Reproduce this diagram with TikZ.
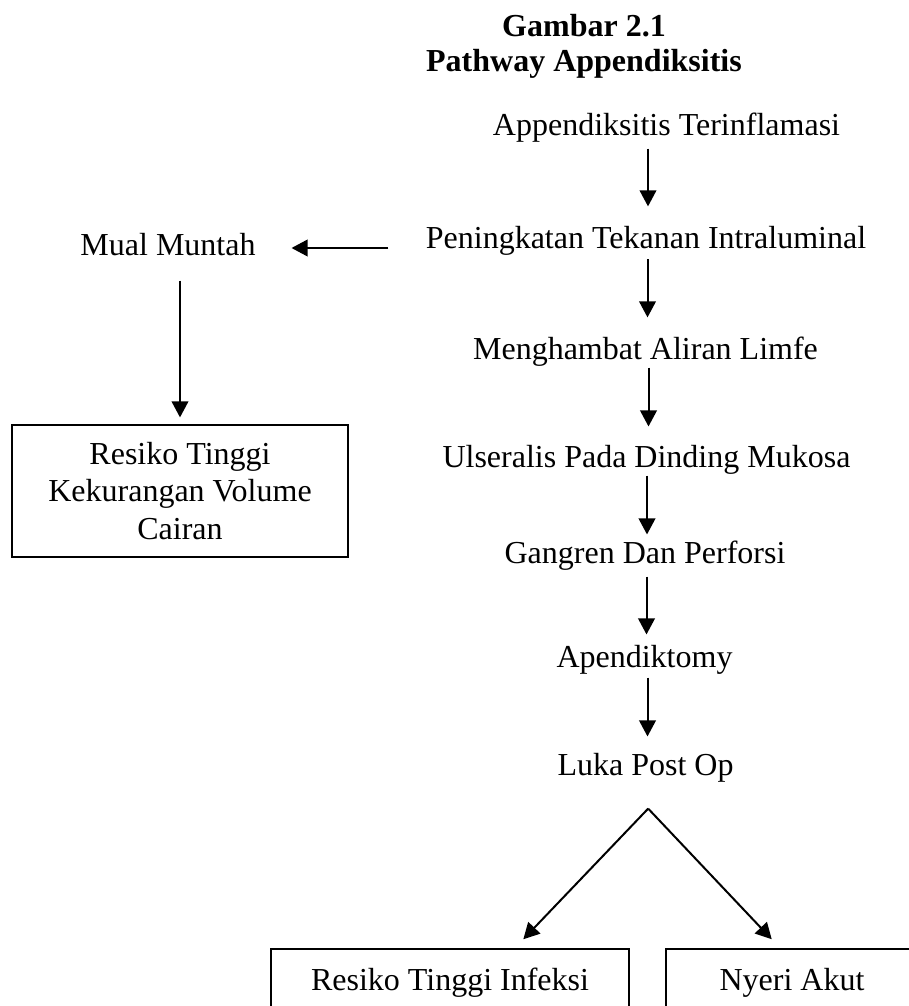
\documentclass[tikz,border=0pt]{standalone}
\usepackage{fontspec}
\setmainfont{Liberation Serif}
\usetikzlibrary{positioning, arrows.meta, calc}

\begin{document}
\begin{tikzpicture}[x=0.375pt,y=-0.375pt,
    txt/.style={font=\fontsize{12}{13.9}\selectfont, inner sep=0pt, text height=9pt, text depth=3pt},
    boxed/.style={font=\fontsize{12}{13.9}\selectfont, draw, line width=0.5pt, align=center, inner sep=0pt},
    flow/.style={line width=0.75pt, -{Triangle[length=6pt,width=6.2pt]}}]
    \useasboundingbox (0,0) rectangle (909,1006);
    \clip (0,0) rectangle (909,1006);
    % judul
    \node[txt, font=\fontsize{12}{13.9}\selectfont\bfseries, anchor=base] (ttla) at (584,37) {Gambar 2.1};
    \node[txt, font=\fontsize{12}{13.9}\selectfont\bfseries, anchor=base] (ttlb) at (584,72) {Pathway Appendiksitis};
    % alur utama
    \foreach \nm/\xx/\yy/\lbl in {ai/666.5/135/Appendiksitis Terinflamasi,
        pti/646/248/Peningkatan Tekanan Intraluminal,
        mal/645.5/359/Menghambat Aliran Limfe,
        udm/646.5/467/Ulseralis Pada Dinding Mukosa,
        gdp/645/563/Gangren Dan Perforsi,
        apd/644.5/667/Apendiktomy,
        lpo/645.5/775/Luka Post Op}{
        \node[txt, anchor=base] (\nm) at (\xx,\yy) {\lbl};
    }
    \node[txt, anchor=base] (mm) at (168,255) {Mual Muntah};
    \node[boxed, minimum width=126pt, minimum height=49.5pt] (rkv) at (180,491) {Resiko Tinggi\\Kekurangan Volume\\Cairan};
    \node[txt, draw, line width=0.5pt, minimum width=134.25pt, minimum height=24.75pt] (rti) at (450,982) {Resiko Tinggi Infeksi};
    \node[txt, draw, line width=0.5pt, minimum width=94.5pt, minimum height=24.75pt] (nya) at (792,982) {Nyeri Akut};
    \coordinate (fork) at ([xshift=1pt,yshift=-9.4pt]lpo.south);
    % panah
    \foreach \a/\b/\s/\e in {ai/pti/1.9pt/6.4pt, pti/mal/1.1pt/6.4pt, mal/udm/0pt/6pt,
        udm/gdp/0pt/1.5pt, gdp/apd/1.9pt/3pt, apd/lpo/0.75pt/5.25pt}{
        \draw[flow, shorten <=\s, shorten >=\e] ([xshift=0.75pt]\b.north |- \a.south) -- ([xshift=0.75pt]\b.north);
    }
    \draw[flow, shorten <=13.9pt, shorten >=13.3pt] (pti.base west) -- (mm.east |- pti.base west);
    \draw[flow, shorten <=6.4pt, shorten >=2.6pt] (rkv.north |- mm.south) -- (rkv.north);
    \draw[flow] (fork) -- ($(rti.north west)!0.704!(rti.north east)+(0pt,3.4pt)$);
    \draw[flow] (fork) -- ($(nya.north west)!0.42!(nya.north east)+(0pt,3.4pt)$);
\end{tikzpicture}
\end{document}
